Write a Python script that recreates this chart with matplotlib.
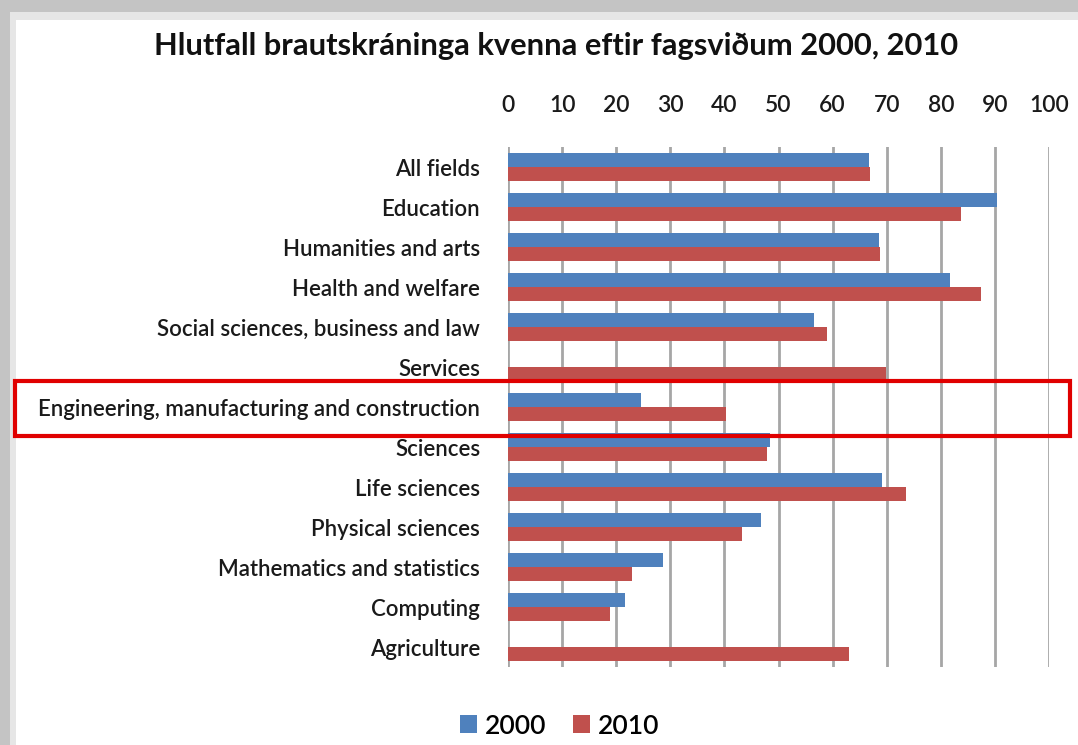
import numpy as np
import matplotlib.pyplot as plt
from matplotlib.patches import Rectangle

categories = ["All fields", "Education", "Humanities and arts", "Health and welfare",
              "Social sciences, business and law", "Services",
              "Engineering, manufacturing and construction", "Sciences", "Life sciences",
              "Physical sciences", "Mathematics and statistics", "Computing", "Agriculture"]
v2000 = [66.8, 90.4, 68.6, 81.7, 56.5, 0, 24.5, 48.4, 69.2, 46.8, 28.6, 21.6, 0]
v2010 = [67.0, 83.7, 68.8, 87.5, 58.9, 69.9, 40.3, 47.8, 73.5, 43.3, 23.0, 18.8, 63.0]
xticks = list(range(0, 101, 10))

blue = '#4f81bd'
red = '#c0504d'
plt.rcParams['font.family'] = ['Lato', 'DejaVu Sans']

fig = plt.figure(figsize=(10.78, 7.45), dpi=100)
fig.patch.set_facecolor('#c4c4c4')
W, H = 1078, 745
# white panel with shadowed edge
fig.add_artist(Rectangle((10 / W, 0), 1 - 10 / W, 1 - 12 / H, transform=fig.transFigure,
                         facecolor='#e6e6e6', edgecolor='none', zorder=0))
fig.add_artist(Rectangle((16 / W, 0), 1 - 16 / W, 1 - 20 / H, transform=fig.transFigure,
                         facecolor='white', edgecolor='none', zorder=0))

ax = fig.add_axes([508 / W, 1 - 667 / H, 541 / W, 520 / H])
ax.set_facecolor('none')
y = np.arange(len(categories))
h = 0.35
ax.barh(y - h / 2, v2000, height=h, color=blue, label='2000', zorder=3)
ax.barh(y + h / 2, v2010, height=h, color=red, label='2010', zorder=3)

ax.set_xlim(0, 100)
ax.set_ylim(len(categories) - 0.5, -0.5)
ax.set_xticks(xticks)
ax.xaxis.tick_top()
ax.tick_params(axis='x', length=0, labelsize=16.5, pad=22, colors='#1a1a1a')
ax.set_yticks(y)
ax.set_yticklabels(categories)
ax.tick_params(axis='y', length=0, labelsize=16, pad=20, colors='#1a1a1a')
for lab in ax.get_xticklabels() + ax.get_yticklabels():
    lab.set_fontweight('semibold')
ax.grid(axis='x', color='#a6a6a6', linewidth=2, zorder=0)
for s in ax.spines.values():
    s.set_visible(False)

fig.text(556 / W, 1 - 46 / H, "Hlutfall brautskráninga kvenna eftir fagsviðum 2000, 2010",
         ha='center', va='center', fontsize=22.2, fontweight='bold', color='#111111')

# highlight box around the engineering row
fig.add_artist(Rectangle((15 / W, 1 - 436 / H), 1055 / W, 55 / H, transform=fig.transFigure,
                         facecolor='none', edgecolor='#e00000', linewidth=3, zorder=5))

fig.legend(loc='center', bbox_to_anchor=(560 / W, 1 - 726 / H), ncol=2, frameon=False,
           handlelength=0.65, handleheight=0.65, handletextpad=0.3,
           columnspacing=1.0, prop={'weight': 'semibold', 'size': 19})

fig.savefig('out.png', dpi=100)
